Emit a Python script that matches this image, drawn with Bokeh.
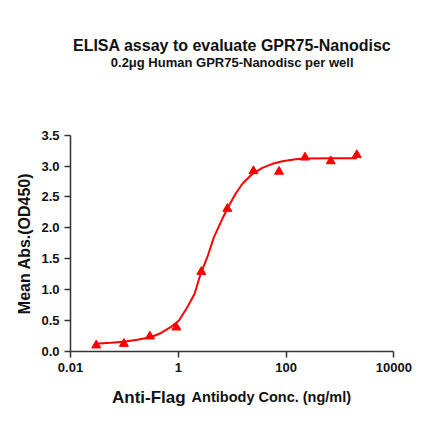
from bokeh.plotting import figure
from bokeh.models import Range1d, Label, FixedTicker, NumeralTickFormatter
from bokeh.embed import file_html
from bokeh.resources import INLINE

# Data
conc = [0.03, 0.098, 0.297, 0.92, 2.68, 8.15, 24.8, 74.1, 225, 676, 2056]
od450 = [0.10, 0.125, 0.245, 0.39, 1.29, 2.31, 2.92, 2.91, 3.14, 3.08, 3.18]

fit_conc = [0.0291, 0.0553, 0.0977, 0.173, 0.306, 0.470, 0.721, 1.03, 1.47, 2.01,
            2.60, 3.46, 4.59, 6.58, 8.73, 11.6, 15.5, 23.7, 36.4, 55.8,
            85.7, 151, 232, 676, 2056]
fit_od = [0.125, 0.141, 0.157, 0.189, 0.231, 0.296, 0.393, 0.502, 0.717, 0.934,
          1.257, 1.526, 1.850, 2.147, 2.362, 2.552, 2.714, 2.875, 2.972, 3.037,
          3.079, 3.112, 3.123, 3.126, 3.128]

x_ticks = [0.01, 1, 100, 10000]
x_tick_labels = {0.01: "0.01", 1: "1", 100: "100", 10000: "10000"}
y_ticks = [0.0, 0.5, 1.0, 1.5, 2.0, 2.5, 3.0, 3.5]

title_text = "ELISA assay to evaluate GPR75-Nanodisc"
subtitle_text = "0.2\u03bcg Human GPR75-Nanodisc per well"
xlabel_big = "Anti-Flag"
xlabel_small = "Antibody Conc. (ng/ml)"
ylabel = "Mean Abs.(OD450)"

FONT = "Liberation Sans"
RED = "#ff0000"
AX = "#333333"
TXT = "#111111"

# The frame fills the canvas; the axes sit at fixed data locations and are
# limited to the reference's extents with bounds.
p = figure(frame_width=436, frame_height=437, x_axis_type="log",
           x_range=Range1d(5.02e-4, 62010), y_range=Range1d(-1.3916, 5.6796),
           output_backend="svg", toolbar_location=None,
           min_border_left=0, min_border_right=0,
           min_border_top=0, min_border_bottom=0)
p.outline_line_color = None
p.grid.visible = False
p.background_fill_color = "white"
p.border_fill_color = "white"

p.line(fit_conc, fit_od, line_color=RED, line_width=2)
p.scatter(conc, od450, marker="triangle", size=9, fill_color=RED, line_color=RED)

xa = p.xaxis[0]
xa.ticker = FixedTicker(ticks=x_ticks, minor_ticks=[])
xa.major_label_overrides = x_tick_labels
xa.fixed_location = 0
xa.bounds = (0.01, 10000)
ya = p.yaxis[0]
ya.ticker = FixedTicker(ticks=y_ticks, minor_ticks=[])
ya.formatter = NumeralTickFormatter(format="0.0")
ya.fixed_location = 0.01
ya.bounds = (0, 3.5)

for ax in (xa, ya):
    ax.axis_line_color = AX
    ax.axis_line_width = 1.5
    ax.major_tick_line_color = AX
    ax.major_tick_line_width = 1.5
    ax.major_tick_out = 6
    ax.major_tick_in = 0
    ax.minor_tick_line_color = None
    ax.major_label_text_font = FONT
    ax.major_label_text_font_style = "bold"
    ax.major_label_text_font_size = "13px"
    ax.major_label_text_color = TXT
xa.major_label_standoff = 6
ya.major_label_standoff = 5

ya.axis_label = ylabel
ya.axis_label_text_font = FONT
ya.axis_label_text_font_style = "bold"
ya.axis_label_text_font_size = "16px"
ya.axis_label_text_color = TXT
ya.axis_label_standoff = 5

p.add_layout(Label(x=10, y=4.951, text=title_text, text_align="center",
                   text_baseline="middle", text_font=FONT, text_font_style="bold",
                   text_font_size="16px", text_color=TXT))
p.add_layout(Label(x=10, y=4.676, text=subtitle_text, text_align="center",
                   text_baseline="middle", text_font=FONT, text_font_style="bold",
                   text_font_size="13px", text_color=TXT))
p.add_layout(Label(x=1.556, y=-0.74, x_offset=-3, text=xlabel_big, text_align="right",
                   text_baseline="alphabetic", text_font=FONT, text_font_style="bold",
                   text_font_size="17px", text_color=TXT))
p.add_layout(Label(x=1.556, y=-0.74, x_offset=3, text=xlabel_small, text_align="left",
                   text_baseline="alphabetic", text_font=FONT, text_font_style="bold",
                   text_font_size="14.5px", text_color=TXT))

open("out.html", "w").write(file_html(p, INLINE))
